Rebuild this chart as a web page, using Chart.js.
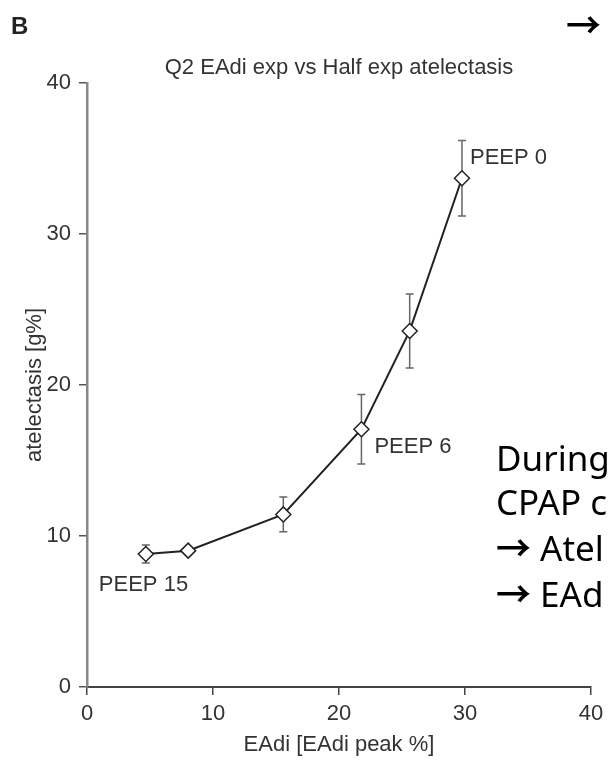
<!DOCTYPE html>
<html>
<head>
<meta charset="utf-8">
<script src="https://cdn.jsdelivr.net/npm/chart.js"></script>
<style>
    body { margin: 0; background: #fff; }
    #kontener { position: relative; width: 610px; height: 760px; overflow: hidden; }
    #canvasWykresu { position: absolute; left: 0; top: 0; }
    .litera { position: absolute; left: 11px; top: 12px; font: bold 24px "Liberation Sans", Arial, sans-serif; color: #222; }
    .notatka { position: absolute; font-family: "Noto Sans", sans-serif; font-size: 35px; line-height: 44px; color: #000; white-space: nowrap; }
    .strzalka { font-family: "Noto Sans CJK KR", "DejaVu Sans", sans-serif; font-weight: 700; }
</style>
</head>
<body>
<div id="kontener">
    <canvas id="canvasWykresu" width="610" height="760"></canvas>
    <div class="litera">B</div>
    <div class="notatka" style="left:566px; top:1px;"><span class="strzalka">→</span></div>
    <div class="notatka" style="left:496px; top:436px;">During<br>CPAP c<br><span class="strzalka">→</span> Atel<br><span class="strzalka">→</span> EAd</div>
</div>
<script>
const tytulWykresu = 'Q2 EAdi exp vs Half exp atelectasis';
const opisOsiX = 'EAdi [EAdi peak %]';
const opisOsiY = 'atelectasis [g%]';

const eadi = [4.67, 8.03, 15.58, 21.78, 25.61, 29.76];
const niedodma = [8.81, 9.03, 11.43, 17.07, 23.58, 33.69];
const bladStd = [0.6, 0.2, 1.15, 2.3, 2.45, 2.5];
const etykietyPeep = ['PEEP 15', '', '', 'PEEP 6', '', 'PEEP 0'];

const ticksX = [0, 10, 20, 30, 40];
const ticksY = [0, 10, 20, 30, 40];

const czcionka = '"Liberation Sans", Arial, sans-serif';
Chart.defaults.font.family = czcionka;

// slupki bledow pod linia i markerami
const slupkiBledow = {
    id: 'slupkiBledow',
    beforeDatasetsDraw(chart) {
        const ctx = chart.ctx;
        const sx = chart.scales.x, sy = chart.scales.y;
        ctx.save();
        ctx.strokeStyle = '#666';
        ctx.lineWidth = 1.5;
        eadi.forEach((x, i) => {
            const px = sx.getPixelForValue(x);
            const gora = sy.getPixelForValue(niedodma[i] + bladStd[i]);
            const dol = sy.getPixelForValue(niedodma[i] - bladStd[i]);
            ctx.beginPath();
            ctx.moveTo(px, gora); ctx.lineTo(px, dol);
            ctx.moveTo(px - 4, gora); ctx.lineTo(px + 4, gora);
            ctx.moveTo(px - 4, dol); ctx.lineTo(px + 4, dol);
            ctx.stroke();
        });
        ctx.restore();
    }
};

const podpisy = {
    id: 'podpisy',
    afterDraw(chart) {
        const ctx = chart.ctx;
        const sx = chart.scales.x, sy = chart.scales.y;
        const przesuniecia = [[-47, 31], [0, 0], [0, 0], [13, 18], [0, 0], [8, -20]];
        ctx.save();
        ctx.fillStyle = '#333';
        ctx.font = '22px ' + czcionka;
        ctx.textAlign = 'left';
        ctx.textBaseline = 'middle';
        etykietyPeep.forEach((tekst, i) => {
            if (!tekst) return;
            const px = sx.getPixelForValue(eadi[i]);
            const py = sy.getPixelForValue(niedodma[i]);
            ctx.fillText(tekst, px + przesuniecia[i][0], py + przesuniecia[i][1]);
        });
        const area = chart.chartArea;
        ctx.textAlign = 'center';
        ctx.textBaseline = 'alphabetic';
        ctx.fillText(tytulWykresu, (area.left + area.right) / 2, 74);
        ctx.restore();
    }
};

const ctx = document.getElementById('canvasWykresu').getContext('2d');
new Chart(ctx, {
    type: 'line',
    data: {
        datasets: [{
            data: eadi.map((x, i) => ({ x: x, y: niedodma[i] })),
            borderColor: '#222',
            borderWidth: 2,
            pointStyle: 'rectRot',
            pointRadius: 7.5,
            pointBackgroundColor: '#fff',
            pointBorderColor: '#222',
            pointBorderWidth: 1.5,
            tension: 0
        }]
    },
    options: {
        responsive: false,
        animation: false,
        layout: { padding: { left: 20, right: 19, top: 83, bottom: 0 } },
        plugins: { legend: { display: false }, tooltip: { enabled: false } },
        scales: {
            x: {
                type: 'linear',
                min: 0,
                max: 40,
                afterBuildTicks: s => { s.ticks = ticksX.map(v => ({ value: v })); },
                afterFit: s => { s.height = 73; },
                grid: { display: true, drawOnChartArea: false, drawTicks: true, tickLength: 8, color: '#444', lineWidth: 1.5 },
                border: { display: true, color: '#444', width: 2 },
                ticks: { color: '#333', font: { size: 22 }, padding: 6, maxRotation: 0 },
                title: { display: true, text: opisOsiX, color: '#333', font: { size: 22 }, padding: { top: 0, bottom: 2 } }
            },
            y: {
                type: 'linear',
                min: 0,
                max: 40,
                afterBuildTicks: s => { s.ticks = ticksY.map(v => ({ value: v })); },
                afterFit: s => { s.width = 67; },
                grid: { display: true, drawOnChartArea: false, drawTicks: true, tickLength: 8, color: '#555', lineWidth: 1.5 },
                border: { display: true, color: '#888', width: 2.5 },
                ticks: { color: '#333', font: { size: 22 }, padding: 8 },
                title: { display: true, text: opisOsiY, color: '#333', font: { size: 22 }, padding: { top: 2, bottom: 0 } }
            }
        }
    },
    plugins: [slupkiBledow, podpisy]
});
</script>
</body>
</html>
